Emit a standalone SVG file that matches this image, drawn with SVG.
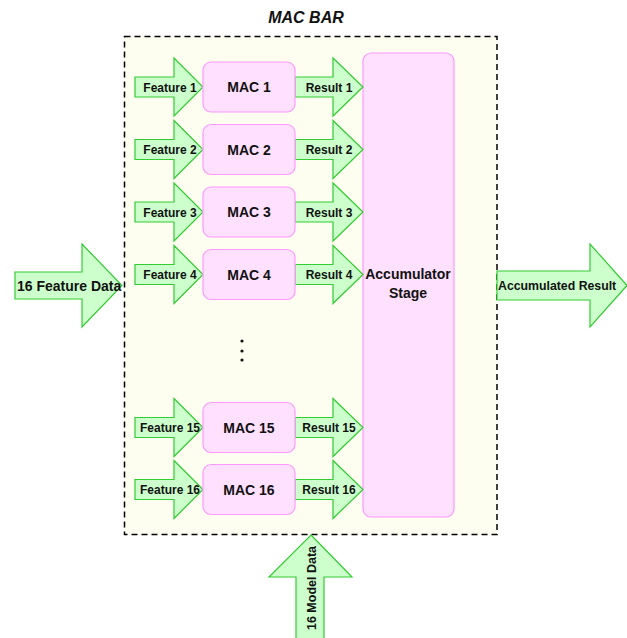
<svg xmlns="http://www.w3.org/2000/svg" width="627" height="638" viewBox="0 0 627 638">
<defs>
<style>
.arrow{fill:#ccffcc;stroke:#33cc33;stroke-width:1.2;stroke-linejoin:miter}
.mac{fill:#ffe0ff;stroke:#ff99ff;stroke-width:1.2}
.lbl{font-family:"Liberation Sans",Arial,sans-serif;font-weight:bold;fill:#111}
.s12{font-size:12px}
.s14{font-size:14px}
</style>
<polygon id="fa" class="arrow" points="0,-10 39,-10 39,-29 68,0 39,29 39,10 0,10"/>
</defs>
<rect width="627" height="638" fill="#ffffff"/>
<g id="macbar">
<rect x="124.5" y="36.5" width="372.5" height="498" fill="#fdfdf0" stroke="#000" stroke-width="1.5" stroke-dasharray="6,4"/>
<text class="lbl" x="306" y="23" font-size="16" font-style="italic" text-anchor="middle">MAC BAR</text>
</g>
<g id="accumulator">
<rect class="mac" x="363" y="53" width="91" height="464" rx="8"/>
<text class="lbl s14" x="408" y="279" text-anchor="middle">Accumulator</text>
<text class="lbl s14" x="408" y="298" text-anchor="middle">Stage</text>
</g>
<g id="connectors">
<g id="in-features">
<use href="#fa" x="135" y="87"/>
<use href="#fa" x="135" y="149.5"/>
<use href="#fa" x="135" y="212"/>
<use href="#fa" x="135" y="274.5"/>
<use href="#fa" x="135" y="427.5"/>
<use href="#fa" x="135" y="489.5"/>
</g>
<g id="out-results">
<polygon class="arrow" points="295,77 333,77 333,58 363,87 333,116 333,97 295,97"/>
<polygon class="arrow" points="295,139.5 333,139.5 333,120.5 363,149.5 333,178.5 333,159.5 295,159.5"/>
<polygon class="arrow" points="295,202 333,202 333,183 363,212 333,241 333,222 295,222"/>
<polygon class="arrow" points="295,264.5 333,264.5 333,245.5 363,274.5 333,303.5 333,284.5 295,284.5"/>
<polygon class="arrow" points="295,417.5 333,417.5 333,398.5 363,427.5 333,456.5 333,437.5 295,437.5"/>
<polygon class="arrow" points="295,479.5 333,479.5 333,460.5 363,489.5 333,518.5 333,499.5 295,499.5"/>
</g>
<g id="feature-data-in">
<polygon class="arrow" points="15,272 82,272 82,244 122,285.5 82,327 82,299 15,299"/>
<text class="lbl s14" x="17" y="290.5">16 Feature Data</text>
</g>
<g id="accumulated-out">
<polygon class="arrow" points="497,271 590,271 590,244 627,285.5 590,327 590,300 497,300"/>
<text class="lbl" font-size="12.3" x="498" y="290">Accumulated Result</text>
</g>
<g id="model-data-in">
<polygon class="arrow" points="311,535 352,577 324,577 324,640 296,640 296,577 269,577"/>
<text class="lbl" font-size="12.5" transform="translate(316,588) rotate(-90)" text-anchor="middle">16 Model Data</text>
</g>
</g>
<g id="feature-labels" class="lbl s12" text-anchor="middle">
<text x="170" y="91.5">Feature 1</text>
<text x="170" y="154">Feature 2</text>
<text x="170" y="216.5">Feature 3</text>
<text x="170" y="279">Feature 4</text>
<text x="170" y="432">Feature 15</text>
<text x="170" y="494">Feature 16</text>
</g>
<g id="result-labels" class="lbl s12" text-anchor="middle">
<text x="329" y="91.5">Result 1</text>
<text x="329" y="154">Result 2</text>
<text x="329" y="216.5">Result 3</text>
<text x="329" y="279">Result 4</text>
<text x="329" y="432">Result 15</text>
<text x="329" y="494">Result 16</text>
</g>
<g id="mac1"><rect class="mac" x="203" y="62" width="92" height="50" rx="8"/><text class="lbl s14" x="249" y="92" text-anchor="middle">MAC 1</text></g>
<g id="mac2"><rect class="mac" x="203" y="124.5" width="92" height="50" rx="8"/><text class="lbl s14" x="249" y="154.5" text-anchor="middle">MAC 2</text></g>
<g id="mac3"><rect class="mac" x="203" y="187" width="92" height="50" rx="8"/><text class="lbl s14" x="249" y="217" text-anchor="middle">MAC 3</text></g>
<g id="mac4"><rect class="mac" x="203" y="249.5" width="92" height="50" rx="8"/><text class="lbl s14" x="249" y="279.5" text-anchor="middle">MAC 4</text></g>
<g id="ellipsis" fill="#111">
<circle cx="242" cy="341" r="1.6"/>
<circle cx="242" cy="351" r="1.6"/>
<circle cx="242" cy="360" r="1.6"/>
</g>
<g id="mac15"><rect class="mac" x="203" y="402.5" width="92" height="50" rx="8"/><text class="lbl s14" x="249" y="432.5" text-anchor="middle">MAC 15</text></g>
<g id="mac16"><rect class="mac" x="203" y="464.5" width="92" height="50" rx="8"/><text class="lbl s14" x="249" y="494.5" text-anchor="middle">MAC 16</text></g>
</svg>
